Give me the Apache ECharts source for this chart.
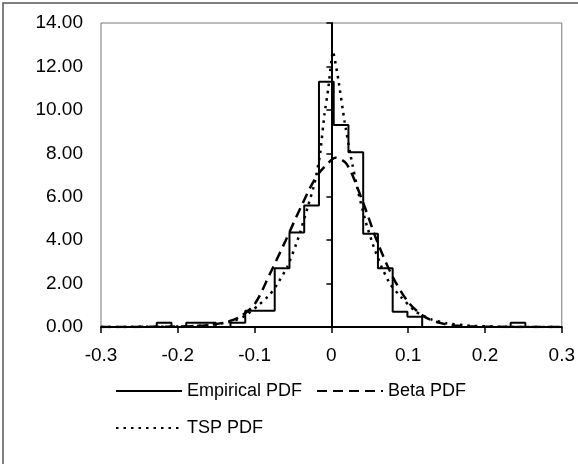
<!DOCTYPE html>
<html>
<head>
<meta charset="utf-8">
<script src="https://cdn.jsdelivr.net/npm/echarts@6/dist/echarts.min.js"></script>
<style>
html,body{margin:0;padding:0;background:#fff;}
#c{width:578px;height:464px;}
</style>
</head>
<body>
<div id="c"></div>
<script>
// Histogram bin edges and empirical density heights
var binEdges = [-0.2274, -0.2082, -0.189, -0.1698, -0.1506, -0.1314, -0.1122, -0.093, -0.0738, -0.0546, -0.0354, -0.0162, 0.003, 0.0222, 0.0414, 0.0606, 0.0798, 0.099, 0.1182, 0.1374, 0.1566, 0.1758, 0.195, 0.2142, 0.2334, 0.2526];
var empiricalHeights = [0.19, 0, 0.19, 0.19, 0, 0.19, 0.75, 0.75, 2.7, 4.35, 5.6, 11.3, 9.3, 8.05, 4.3, 2.7, 0.7, 0.47, 0, 0, 0, 0, 0, 0, 0.19];

// Beta PDF
var betaX = [-0.30, -0.22, -0.20, -0.18, -0.16, -0.14, -0.12, -0.10, -0.08, -0.06, -0.04, -0.02, 0.00, 0.005, 0.02, 0.04, 0.06, 0.08, 0.10, 0.12, 0.14, 0.16, 0.18, 0.20, 0.30];
var betaY = [0, 0.01, 0.02, 0.04, 0.09, 0.2, 0.45, 1.05, 2.45, 3.95, 5.5, 6.9, 7.7, 7.8, 7.5, 5.85, 3.9, 2.3, 1.15, 0.5, 0.2, 0.07, 0.03, 0.01, 0];

// TSP PDF
var tspX = [-0.30, -0.20, -0.16, -0.13, -0.113, -0.095, -0.08, -0.07, -0.057, -0.044, -0.031, -0.022, -0.015, -0.009, -0.004, 0.002, 0.009, 0.017, 0.025, 0.035, 0.045, 0.055, 0.065, 0.076, 0.09, 0.11, 0.13, 0.15, 0.18, 0.22, 0.30];
var tspY = [0, 0.02, 0.08, 0.25, 0.5, 1.0, 1.5, 2.0, 2.8, 4.0, 5.5, 6.6, 7.9, 9.8, 11.0, 12.7, 11.4, 9.5, 7.9, 6.2, 4.8, 3.7, 2.8, 2.0, 1.4, 0.7, 0.35, 0.17, 0.06, 0.01, 0];

// Axis settings
var xTicks = [-0.3, -0.2, -0.1, 0, 0.1, 0.2, 0.3];
var yTicks = [0, 2, 4, 6, 8, 10, 12, 14];

function zip(xs, ys) { return xs.map(function (x, i) { return [x, ys[i]]; }); }

var empData = [[xTicks[0], 0], [binEdges[0], 0]];
for (var i = 0; i < empiricalHeights.length; i++) {
  empData.push([binEdges[i], empiricalHeights[i]]);
  empData.push([binEdges[i + 1], empiricalHeights[i]]);
}
empData.push([binEdges[binEdges.length - 1], 0]);
empData.push([xTicks[xTicks.length - 1], 0]);

var FONT = '"Liberation Sans", Arial, sans-serif';
var chart = echarts.init(document.getElementById('c'), null, {renderer: 'canvas'});
var legendCommon = {
  orient: 'horizontal', left: 110,
  itemWidth: 66, itemHeight: 14, itemGap: 14,
  itemStyle: {opacity: 0, borderWidth: 0},
  textStyle: {color: '#000', fontSize: 18, fontFamily: FONT}
};
chart.setOption({
  animation: false,
  backgroundColor: '#fff',
  textStyle: {fontFamily: FONT},
  graphic: [{
    type: 'rect', silent: true, z: -10,
    shape: {x: 3, y: 3, width: 640, height: 520},
    style: {fill: null, stroke: '#555', lineWidth: 1.5}
  }],
  grid: {
    left: 101, right: 14, top: 23, bottom: 137,
    show: true, borderColor: '#777', borderWidth: 1
  },
  xAxis: {
    type: 'value',
    min: xTicks[0], max: xTicks[xTicks.length - 1], interval: 0.1,
    axisLine: {onZero: true, lineStyle: {color: '#000', width: 2}},
    axisTick: {show: true, length: 6, lineStyle: {color: '#000', width: 1.5}},
    axisLabel: {color: '#000', fontSize: 19, fontFamily: FONT, margin: 19},
    splitLine: {show: false}
  },
  yAxis: [{
    type: 'value', min: yTicks[0], max: yTicks[yTicks.length - 1], interval: 2,
    position: 'left',
    axisLine: {show: false, onZero: false},
    axisTick: {show: false},
    axisLabel: {color: '#000', fontSize: 19, fontFamily: FONT, margin: 18,
      formatter: function (v) { return v.toFixed(2); }},
    splitLine: {show: false}
  }, {
    type: 'value', min: yTicks[0], max: yTicks[yTicks.length - 1], interval: 2,
    position: 'left',
    axisLine: {show: true, onZero: true, lineStyle: {color: '#000', width: 2}},
    axisTick: {show: true, length: 5, lineStyle: {color: '#000', width: 1.5}},
    axisLabel: {show: false},
    splitLine: {show: false}
  }],
  legend: [
    Object.assign({}, legendCommon, {data: ['Empirical PDF', 'Beta PDF'], top: 377}),
    Object.assign({}, legendCommon, {data: ['TSP PDF'], top: 414})
  ],
  series: [{
    name: 'Empirical PDF', type: 'line', data: empData,
    symbol: 'none', xAxisIndex: 0, yAxisIndex: 0,
    lineStyle: {color: '#000', width: 2, type: 'solid'},
    itemStyle: {color: '#000'}, z: 5
  }, {
    name: 'Beta PDF', type: 'line', data: zip(betaX, betaY),
    symbol: 'none', smooth: 0.3, xAxisIndex: 0, yAxisIndex: 0,
    lineStyle: {color: '#000', width: 2.5, type: [10, 6]},
    itemStyle: {color: '#000'}, z: 4
  }, {
    name: 'TSP PDF', type: 'line', data: zip(tspX, tspY),
    symbol: 'none', smooth: 0.15, xAxisIndex: 0, yAxisIndex: 0,
    lineStyle: {color: '#000', width: 2.5, type: [2.5, 5]},
    itemStyle: {color: '#000'}, z: 4
  }]
});
</script>
</body>
</html>
